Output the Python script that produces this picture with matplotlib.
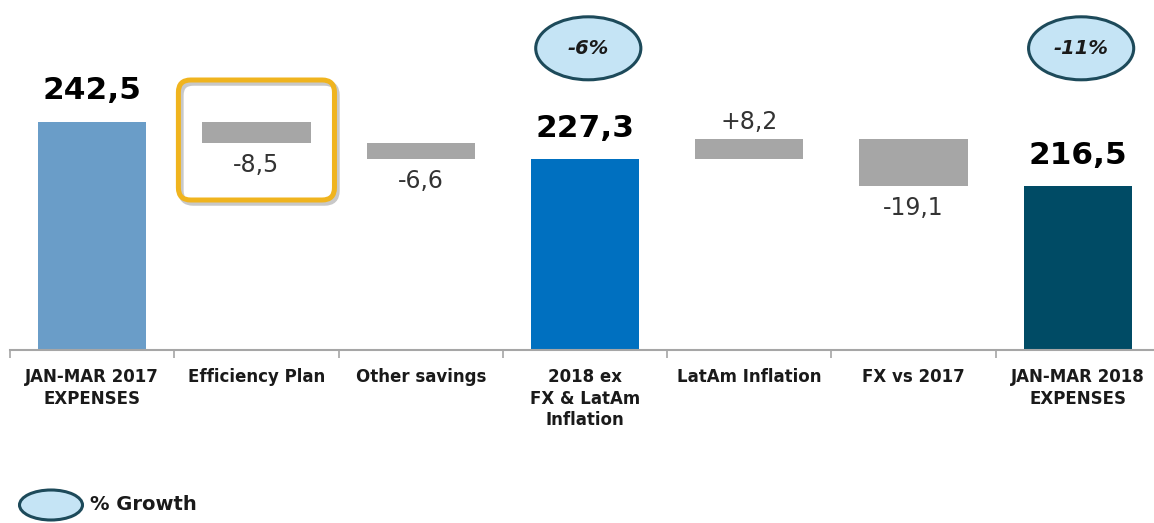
import matplotlib
matplotlib.use('Agg')
import matplotlib.pyplot as plt
import matplotlib.transforms as mtransforms
from matplotlib.patches import Ellipse, FancyBboxPatch
import numpy as np

plt.rcParams['font.family'] = ['DejaVu Sans']

categories = ['JAN-MAR 2017\nEXPENSES', 'Efficiency Plan', 'Other savings',
              '2018 ex\nFX & LatAm\nInflation', 'LatAm Inflation', 'FX vs 2017',
              'JAN-MAR 2018\nEXPENSES']
values = [242.5, -8.5, -6.6, 227.3, 8.2, -19.1, 216.5]
is_total = [True, False, False, True, False, False, True]
total_colors = ['#6a9dc8', '#0070c0', '#004b65']
growth_idx = [3, 6]
growth_labels = ['-6%', '-11%']
highlight_idx = 1

y_min, y_max = 150, 291.7  # truncated axis, as in the slide

fig = plt.figure(figsize=(11.54, 5.23), dpi=100)
ax = fig.add_axes([10 / 1154, 173 / 523, 1150 / 1154, 350 / 523])

x = np.arange(len(categories))
level = 0
bottoms, heights, colors = [], [], []
ci = 0
for v, tot in zip(values, is_total):
    if tot:
        bottoms.append(y_min)
        heights.append(v - y_min)
        colors.append(total_colors[ci])
        ci += 1
        level = v
    else:
        bottoms.append(level)
        heights.append(v)
        colors.append('#a6a6a6')
        level += v

ax.bar(x, heights, bottom=bottoms, width=0.66, color=colors, zorder=2)


def fmt(v, sign=False):
    s = f"{abs(v):.1f}".replace('.', ',')
    if sign:
        s = ('+' if v > 0 else '-') + s
    return s


for i, (v, tot) in enumerate(zip(values, is_total)):
    if tot:
        ax.annotate(fmt(v), (i, v), xytext=(0, 16), textcoords='offset points',
                    ha='center', va='baseline', fontsize=22.5, fontweight='bold',
                    color='black')
    elif v < 0:
        ax.annotate(fmt(v, True), (i, bottoms[i] + v), xytext=(0, -7.5),
                    textcoords='offset points', ha='center', va='top',
                    fontsize=17, color='#333333')
    else:
        ax.annotate(fmt(v, True), (i, bottoms[i] + v), xytext=(0, 7),
                    textcoords='offset points', ha='center', va='baseline',
                    fontsize=17, color='#333333')

# growth ellipses
blend = mtransforms.blended_transform_factory(ax.transData, ax.transAxes)
for i, lab in zip(growth_idx, growth_labels):
    ax.add_patch(Ellipse((i + 0.02, 0.862), 0.64, 0.18, transform=blend,
                         facecolor='#c5e4f5', edgecolor='#1d4a5a', lw=2.2,
                         clip_on=False, zorder=3))
    ax.text(i + 0.02, 0.862, lab, transform=blend, ha='center', va='center',
            fontsize=14, fontweight='bold', style='italic', color='#1a1a1a',
            zorder=4)

# highlight box around the efficiency plan
hb_y0 = y_min + (350 - 200) / 2.47
hb_y1 = y_min + (350 - 80) / 2.47
aspect = (1 / 2.47) / (1 / 164.3)
for dx, dy, col, lw, z in [(0.015, -1.2, '#c8c8c8', 4, 3), (0, 0, '#f0b41e', 3.6, 4)]:
    ax.add_patch(FancyBboxPatch((highlight_idx - 0.475 + dx, hb_y0 + dy), 0.95, hb_y1 - hb_y0,
                                boxstyle='round,pad=0,rounding_size=0.075',
                                mutation_aspect=aspect, facecolor='none',
                                edgecolor=col, lw=lw, zorder=z, clip_on=False))

ax.set_xlim(-0.5, 6.5)
ax.set_ylim(y_min, y_max)
ax.set_yticks([])
for s in ['left', 'right', 'top']:
    ax.spines[s].set_visible(False)
ax.spines['bottom'].set_color('#a6a6a6')
ax.spines['bottom'].set_linewidth(1.5)
ax.set_xticks(x)
ax.set_xticklabels(categories, fontsize=12, fontweight='bold', color='#1a1a1a',
                   linespacing=1.25)
ax.tick_params(axis='x', which='major', length=0, pad=13)
ax.set_xticks(np.arange(-0.5, 7, 1), minor=True)
ax.tick_params(axis='x', which='minor', length=6, width=1.2, color='#a6a6a6')

# legend
fig.patches.append(Ellipse((51 / 1154, 18 / 523), 63 / 1154, 30 / 523,
                           transform=fig.transFigure, facecolor='#c5e4f5',
                           edgecolor='#1d4a5a', lw=2.2))
fig.text(90 / 1154, 18 / 523, '% Growth', ha='left', va='center', fontsize=14,
         fontweight='bold', color='#1a1a1a')

fig.savefig('out.png', dpi=100)
